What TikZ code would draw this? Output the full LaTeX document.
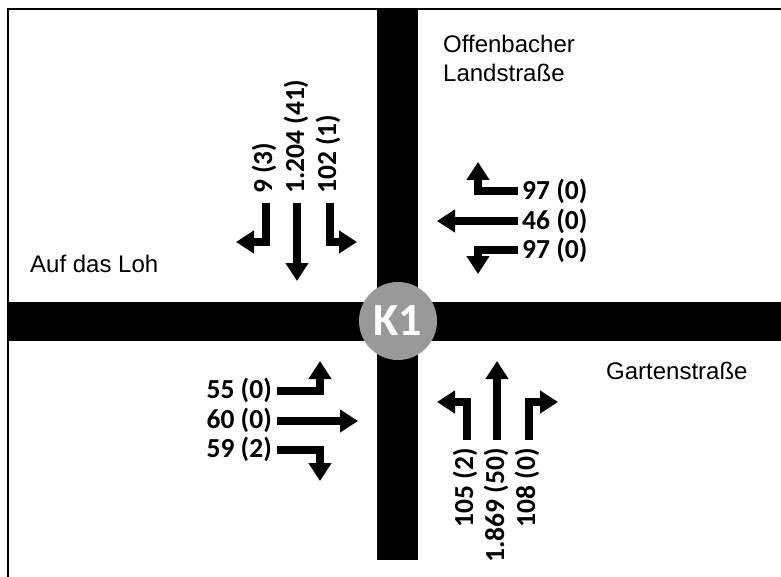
\documentclass[tikz,border=0pt]{standalone}
\usepackage{fontspec}
\usetikzlibrary{arrows.meta}
\newfontfamily\countfont{Carlito}
\newfontfamily\streetfont{Liberation Sans}
\begin{document}
\begin{tikzpicture}[x=1pt,y=-1pt,
  road/.style={fill=black},
  turn/.style={line width=8pt,line join=miter,-{Triangle[width=22pt,length=18pt]}},
  count/.style={font=\countfont\bfseries\fontsize{27.5}{29}\selectfont,inner sep=0pt},
  street/.style={font=\streetfont\fontsize{24}{29}\selectfont,inner sep=0pt,align=left}]
\useasboundingbox (0,0) rectangle (781,577);
% frame
\draw[line width=2pt] (8,577) -- (8,9) -- (781,9);
% roads
\fill[road] (9,302) rectangle (781,341);
\fill[road] (377,9) rectangle (418,560);
% junction marker
\node[circle,fill=black!40,minimum size=78pt,inner sep=0pt,text=white,
      font=\countfont\bfseries\fontsize{46}{46}\selectfont] (k1) at (398,321) {K1};
% street names
\node[street,anchor=north west] (offen) at (443,35) {Offenbacher\\Landstraße};
\node[street,anchor=west] (loh) at (30,264) {Auf das Loh};
\node[street,anchor=west] (garten) at (606,371) {Gartenstraße};

% southbound (from the north)
\node[count,rotate=90,anchor=west] (n1) at (264,194) {9 (3)};
\node[count,rotate=90,anchor=west] (n2) at (296,194) {1.204 (41)};
\node[count,rotate=90,anchor=west] (n3) at (328,194) {102 (1)};
\coordinate (n1s) at (266,203); \coordinate (n1e) at (236,242);
\coordinate (n2s) at (297,203); \coordinate (n2e) at (297,281);
\coordinate (n3s) at (330,203); \coordinate (n3e) at (357,242);
\draw[turn] (n1s) |- (n1e);
\draw[turn] (n2s) -- (n2e);
\draw[turn] (n3s) |- (n3e);

% westbound (from the east)
\node[count,anchor=west] (e1) at (522,191) {97 (0)};
\node[count,anchor=west] (e2) at (522,221) {46 (0)};
\node[count,anchor=west] (e3) at (522,250) {97 (0)};
\coordinate (e1s) at (518,191); \coordinate (e1e) at (478,162);
\coordinate (e2s) at (518,221); \coordinate (e2e) at (437,221);
\coordinate (e3s) at (518,250); \coordinate (e3e) at (478,274);
\draw[turn] (e1s) -| (e1e);
\draw[turn] (e2s) -- (e2e);
\draw[turn] (e3s) -| (e3e);

% eastbound (from the west)
\node[count,anchor=east] (w1) at (272,390) {55 (0)};
\node[count,anchor=east] (w2) at (272,420) {60 (0)};
\node[count,anchor=east] (w3) at (272,449) {59 (2)};
\coordinate (w1s) at (277,391); \coordinate (w1e) at (320,361);
\coordinate (w2s) at (277,421); \coordinate (w2e) at (358,421);
\coordinate (w3s) at (277,450); \coordinate (w3e) at (320,481);
\draw[turn] (w1s) -| (w1e);
\draw[turn] (w2s) -- (w2e);
\draw[turn] (w3s) -| (w3e);

% northbound (from the south)
\node[count,rotate=90,anchor=east] (s1) at (465,448) {105 (2)};
\node[count,rotate=90,anchor=east] (s2) at (496,448) {1.869 (50)};
\node[count,rotate=90,anchor=east] (s3) at (527,448) {108 (0)};
\coordinate (s1s) at (467,440); \coordinate (s1e) at (437,402);
\coordinate (s2s) at (497,440); \coordinate (s2e) at (497,361);
\coordinate (s3s) at (529,440); \coordinate (s3e) at (558,402);
\draw[turn] (s1s) |- (s1e);
\draw[turn] (s2s) -- (s2e);
\draw[turn] (s3s) |- (s3e);
\end{tikzpicture}
\end{document}
